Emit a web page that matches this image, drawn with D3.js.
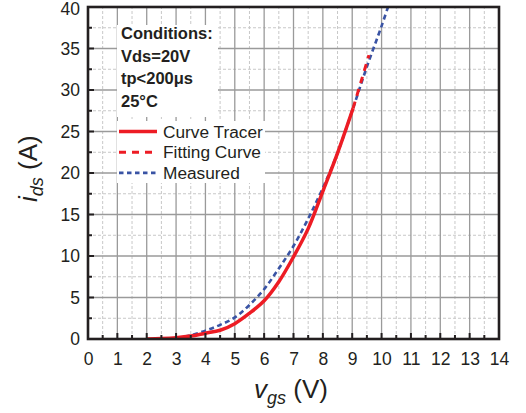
<!DOCTYPE html>
<html>
<head>
<meta charset="utf-8">
<script src="https://cdn.jsdelivr.net/npm/d3@7"></script>
<style>
  body { margin: 0; background: #fff; }
  text { font-family: "Liberation Sans", Arial, sans-serif; }
</style>
</head>
<body>
<div class="chart_viz"></div>
<script>
// curve tracer (solid red)
var tracer_vgs = [2, 2.5, 3, 3.5, 4, 4.5, 5, 5.5, 6, 6.5, 7, 7.5, 8, 8.5, 9.03];
var tracer_ids = [0, 0.05, 0.15, 0.35, 0.7, 1.05, 1.85, 3.1, 4.6, 6.9, 9.9, 13.3, 17.8, 22.4, 27.8];
// fitting curve (dashed red)
var fit_vgs = [9.03, 9.3, 9.57];
var fit_ids = [27.8, 31.0, 34.2];
// measured (dashed blue)
var meas_vgs = [3.3, 3.5, 4, 4.5, 5, 5.5, 6, 6.5, 7, 7.5, 8, 8.5, 9, 9.5, 10, 10.22];
var meas_ids = [0.3, 0.45, 1.0, 1.7, 2.6, 4.1, 6.0, 8.5, 11.2, 14.5, 18.2, 22.4, 27.5, 32.8, 37.7, 40];

var x_ticks = d3.range(0, 15, 1);
var y_ticks = d3.range(0, 45, 5);
var conditions = ["Conditions:", "Vds=20V", "tp<200\u03bcs", "25\u00b0C"];
var legend_labels = ["Curve Tracer", "Fitting Curve", "Measured"];

var width = 526, height = 413;
var margin = {left: 88, right: 27, top: 7, bottom: 74};
var w = width - margin.left - margin.right;
var h = height - margin.top - margin.bottom;

var red = "#ed1c24", blue = "#3953a4";

var svg = d3.select(".chart_viz").append("svg")
  .attr("width", width)
  .attr("height", height);

var x = d3.scaleLinear().domain([0, 14]).range([margin.left, margin.left + w]);
var y = d3.scaleLinear().domain([0, 40]).range([margin.top + h, margin.top]);

// grid
var grid = svg.append("g");
d3.range(0.5, 14, 1).forEach(function(v) {
  grid.append("line").attr("x1", x(v)).attr("x2", x(v)).attr("y1", y(0)).attr("y2", y(40))
    .attr("stroke", "#c8c8c8").attr("stroke-dasharray", "3,2");
});
d3.range(2.5, 40, 5).forEach(function(v) {
  grid.append("line").attr("x1", x(0)).attr("x2", x(14)).attr("y1", y(v)).attr("y2", y(v))
    .attr("stroke", "#c8c8c8").attr("stroke-dasharray", "3,2");
});
x_ticks.slice(1, -1).forEach(function(v) {
  grid.append("line").attr("x1", x(v)).attr("x2", x(v)).attr("y1", y(0)).attr("y2", y(40))
    .attr("stroke", "#9a9a9a").attr("stroke-width", 1.3);
});
y_ticks.slice(1, -1).forEach(function(v) {
  grid.append("line").attr("x1", x(0)).attr("x2", x(14)).attr("y1", y(v)).attr("y2", y(v))
    .attr("stroke", "#9a9a9a").attr("stroke-width", 1.3);
});

// white boxes behind conditions and legend
svg.append("rect").attr("x", 117).attr("y", 25).attr("width", 101).attr("height", 92).attr("fill", "#fff");
svg.append("rect").attr("x", 117).attr("y", 121).attr("width", 148).attr("height", 62).attr("fill", "#fff");

// curves
svg.append("clipPath").attr("id", "plot-clip").append("rect")
  .attr("x", x(0)).attr("y", y(40)).attr("width", w).attr("height", h);
var line = d3.line().x(function(d) { return x(d[0]); }).y(function(d) { return y(d[1]); }).curve(d3.curveCatmullRom);
var curves = svg.append("g").attr("clip-path", "url(#plot-clip)");

curves.append("path").datum(d3.zip(meas_vgs, meas_ids)).attr("d", line)
  .attr("fill", "none").attr("stroke", blue).attr("stroke-width", 2.6).attr("stroke-dasharray", "5,3.5");
curves.append("path").datum(d3.zip(tracer_vgs, tracer_ids)).attr("d", line)
  .attr("fill", "none").attr("stroke", red).attr("stroke-width", 3.5);
curves.append("path").datum(d3.zip(fit_vgs, fit_ids)).attr("d", line)
  .attr("fill", "none").attr("stroke", red).attr("stroke-width", 3).attr("stroke-dasharray", "7,6");

// axes
var xAxis = svg.append("g").attr("transform", "translate(0," + y(0) + ")")
  .call(d3.axisBottom(x).tickValues(x_ticks).tickSize(0).tickPadding(14).tickFormat(d3.format("d")));
var yAxis = svg.append("g").attr("transform", "translate(" + x(0) + ",0)")
  .call(d3.axisLeft(y).tickValues(y_ticks).tickSize(0).tickPadding(8).tickFormat(d3.format("d")));
[xAxis, yAxis].forEach(function(a) {
  a.select(".domain").remove();
  a.selectAll("text").attr("font-size", "17.5px").attr("fill", "#231f20")
    .style("font-family", '"Liberation Sans", Arial, sans-serif');
});
yAxis.selectAll(".tick text").filter(function(d) { return d === 40; }).attr("dy", "0.4em");

// inward ticks on bottom and left
var ticks = svg.append("g").attr("stroke", "#231f20").attr("stroke-width", 2);
d3.range(0.5, 14, 0.5).forEach(function(v) {
  var len = (v % 1 === 0) ? 6 : 4;
  ticks.append("line").attr("x1", x(v)).attr("x2", x(v)).attr("y1", y(0)).attr("y2", y(0) - len);
});
d3.range(2.5, 40, 2.5).forEach(function(v) {
  var len = (v % 5 === 0) ? 6 : 4;
  ticks.append("line").attr("x1", x(0)).attr("x2", x(0) + len).attr("y1", y(v)).attr("y2", y(v));
});

// frame
svg.append("rect").attr("x", x(0)).attr("y", y(40)).attr("width", w).attr("height", h)
  .attr("fill", "none").attr("stroke", "#231f20").attr("stroke-width", 2.6);

// conditions text
svg.append("g").selectAll("text").data(conditions).enter().append("text")
  .attr("x", 121).attr("y", function(d, i) { return 39 + i * 22.5; })
  .attr("font-size", "16.5px").attr("font-weight", "bold").attr("fill", "#231f20")
  .text(function(d) { return d; });

// legend
var legend = svg.append("g");
var dashes = [null, "7,6", "4.5,3.5"];
var colors = [red, red, blue];
var widths = [3.5, 3, 2.6];
legend_labels.forEach(function(lab, i) {
  var ly = 131.5 + i * 20.7;
  var ln = legend.append("line").attr("x1", 119).attr("x2", 157).attr("y1", ly).attr("y2", ly)
    .attr("stroke", colors[i]).attr("stroke-width", widths[i]);
  if (dashes[i]) ln.attr("stroke-dasharray", dashes[i]);
  legend.append("text").attr("x", 163).attr("y", ly + 6).attr("font-size", "17.3px").attr("fill", "#231f20").text(lab);
});

// axis titles
var xt = svg.append("text").attr("x", 254).attr("y", 398).attr("font-size", "26px").attr("fill", "#231f20");
xt.append("tspan").attr("font-style", "italic").text("v");
xt.append("tspan").attr("font-style", "italic").attr("font-size", "18px").attr("dy", 6).text("gs");
xt.append("tspan").attr("dy", -6).text(" (V)");

var yt = svg.append("text").attr("transform", "translate(37,202) rotate(-90)")
  .attr("font-size", "26px").attr("fill", "#231f20");
yt.append("tspan").attr("font-style", "italic").text("i");
yt.append("tspan").attr("font-style", "italic").attr("font-size", "18px").attr("dy", 6).text("ds");
yt.append("tspan").attr("dy", -6).text(" (A)");
</script>
</body>
</html>
